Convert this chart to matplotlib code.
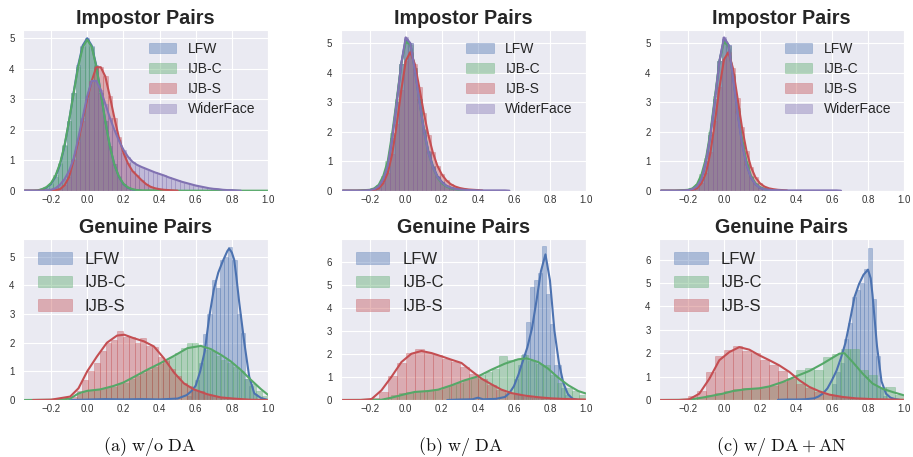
import numpy as np
import matplotlib
matplotlib.use("Agg")
import matplotlib.pyplot as plt
import seaborn as sns

sns.set_style("darkgrid")
plt.rcParams["font.family"] = ["Liberation Sans", "DejaVu Sans"]
plt.rcParams["mathtext.fontset"] = "cm"

# seaborn "deep" (old) colours
C_LFW = "#4C72B0"
C_IJBC = "#55A868"
C_IJBS = "#C44E52"
C_WIDER = "#8172B2"

# impostor score densities, read on a grid starting at -0.35 with step 0.025
IMP_X0 = -0.35
IMP_DX = 0.025

IMP_A_LFW = [0, 0, 0.0, 0.0, 0.04, 0.1, 0.22, 0.46, 0.86, 1.47, 2.29, 3.22, 4.11, 4.76, 5.0, 4.76,
             4.11, 3.22, 2.29, 1.47, 0.86, 0.46, 0.22, 0.1, 0.04, 0.01, 0.0]
IMP_A_IJBC = [0, 0, 0.0, 0.01, 0.05, 0.12, 0.25, 0.5, 0.9, 1.5, 2.3, 3.2, 4.05, 4.7, 4.95, 4.72,
              4.08, 3.2, 2.28, 1.47, 0.86, 0.47, 0.23, 0.11, 0.05, 0.02, 0.01, 0.01, 0.01, 0.01,
              0.01, 0.0, 0.0, 0.0, 0.0, 0.0, 0.0, 0.0, 0.0, 0.0, 0.0, 0.0, 0.0, 0.0, 0.0, 0.0,
              0.0, 0.0, 0.0, 0.0, 0.0, 0.0, 0.0, 0.0, 0.0]
IMP_A_IJBS = [0, 0, 0, 0, 0, 0, 0.0, 0.02, 0.05, 0.18, 0.45, 1.0, 1.6, 2.3, 3.0, 3.6, 4.05, 4.05,
              3.75, 3.1, 2.4, 1.75, 1.25, 0.9, 0.65, 0.5, 0.35, 0.22, 0.13, 0.08, 0.05, 0.03, 0.02,
              0.01, 0.0]
IMP_A_WIDER = [0, 0, 0, 0, 0, 0.01, 0.03, 0.08, 0.2, 0.38, 0.65, 1.05, 1.7, 2.4, 3.1, 3.6, 3.6,
               3.3, 2.85, 2.4, 2.0, 1.65, 1.35, 1.12, 0.95, 0.85, 0.78, 0.72, 0.66, 0.6, 0.55,
               0.5, 0.44, 0.39, 0.34, 0.29, 0.25, 0.21, 0.17, 0.14, 0.11, 0.08, 0.06, 0.05, 0.03,
               0.02, 0.02, 0.01, 0.0]

IMP_B_LFW = [0, 0, 0, 0, 0, 0.01, 0.02, 0.05, 0.15, 0.4, 0.85, 1.8, 3.0, 4.3, 5.15, 5.0, 4.15,
             3.1, 2.1, 1.35, 0.85, 0.5, 0.3, 0.17, 0.1, 0.06, 0.04, 0.03, 0.02, 0.01]
IMP_B_IJBC = [0, 0, 0, 0, 0.01, 0.02, 0.03, 0.08, 0.2, 0.5, 1.0, 1.95, 3.1, 4.3, 5.05, 4.95,
              4.15, 3.1, 2.05, 1.3, 0.8, 0.45, 0.25, 0.14, 0.08, 0.05, 0.03, 0.02, 0.01]
IMP_B_IJBS = [0, 0, 0, 0, 0, 0, 0.01, 0.03, 0.08, 0.25, 0.6, 1.25, 2.25, 3.4, 4.4, 4.7, 4.3,
              3.5, 2.65, 1.9, 1.3, 0.85, 0.55, 0.35, 0.22, 0.14, 0.09, 0.06, 0.04, 0.03, 0.02,
              0.01]
IMP_B_WIDER = [0, 0, 0, 0, 0, 0.01, 0.02, 0.05, 0.15, 0.4, 0.85, 1.8, 3.0, 4.3, 5.2, 5.0, 4.1,
               3.05, 2.05, 1.3, 0.8, 0.47, 0.28, 0.16, 0.1, 0.06, 0.04, 0.03, 0.02, 0.02, 0.01,
               0.01, 0.01, 0.01, 0.01, 0.01, 0.01, 0.0]

IMP_C_LFW = [0, 0, 0, 0, 0, 0.01, 0.02, 0.05, 0.15, 0.4, 1.0, 1.9, 3.1, 4.4, 5.15, 4.95, 3.9,
             2.7, 1.65, 0.9, 0.45, 0.22, 0.1, 0.05, 0.03, 0.02, 0.02, 0.01]
IMP_C_IJBC = [0, 0, 0, 0, 0.01, 0.02, 0.03, 0.08, 0.22, 0.55, 1.1, 2.0, 3.2, 4.4, 5.05, 4.9,
              3.95, 2.8, 1.75, 1.0, 0.5, 0.25, 0.12, 0.06, 0.03, 0.02, 0.01]
IMP_C_IJBS = [0, 0, 0, 0, 0, 0, 0.01, 0.03, 0.08, 0.25, 0.6, 1.3, 2.35, 3.5, 4.45, 4.7, 4.15,
              3.15, 2.15, 1.35, 0.8, 0.45, 0.25, 0.14, 0.08, 0.05, 0.03, 0.02, 0.01]
IMP_C_WIDER = [0, 0, 0, 0, 0, 0.01, 0.02, 0.05, 0.15, 0.4, 1.0, 1.9, 3.1, 4.4, 5.2, 4.95, 3.85,
               2.65, 1.6, 0.88, 0.45, 0.22, 0.1, 0.05, 0.03, 0.02, 0.02, 0.01, 0.01, 0.01, 0.01,
               0.01, 0.01, 0.01, 0.01, 0.01, 0.01, 0.01, 0.01, 0.01, 0.0]

# genuine score KDE curves (x, density)
GEN_A_LFW_X = [-0.1, 0.1, 0.2, 0.3, 0.4, 0.5, 0.55, 0.575, 0.6, 0.625, 0.65, 0.675, 0.7, 0.725,
               0.75, 0.775, 0.785, 0.8, 0.813, 0.825, 0.841, 0.869, 0.896, 0.924, 0.961, 1.0]
GEN_A_LFW_Y = [0.0, 0.03, 0.02, 0.03, 0.02, 0.05, 0.17, 0.3, 0.5, 1.0, 1.7, 2.9, 3.85, 4.45,
               4.85, 5.2, 5.29, 5.15, 4.9, 4.3, 3.4, 2.0, 0.82, 0.23, 0.07, 0.0]
GEN_A_IJBC_X = [-0.35, -0.15, -0.094, -0.048, 0.0, 0.072, 0.146, 0.2, 0.257, 0.33, 0.406, 0.48,
                0.554, 0.628, 0.683, 0.739, 0.794, 0.85, 0.906, 0.961, 1.0]
GEN_A_IJBC_Y = [0.0, 0.01, 0.05, 0.23, 0.32, 0.37, 0.49, 0.61, 0.8, 1.05, 1.29, 1.54, 1.81,
                1.89, 1.78, 1.58, 1.35, 1.05, 0.7, 0.38, 0.18]
GEN_A_IJBS_X = [-0.3, -0.2, -0.094, -0.048, 0.0, 0.054, 0.109, 0.165, 0.205, 0.257, 0.313,
                0.369, 0.424, 0.48, 0.535, 0.59, 0.665, 0.739, 0.81, 0.9, 1.0]
GEN_A_IJBS_Y = [0.0, 0.01, 0.12, 0.41, 1.0, 1.52, 2.0, 2.25, 2.28, 2.16, 2.05, 1.87, 1.46,
                0.96, 0.58, 0.37, 0.2, 0.09, 0.05, 0.01, 0.0]

GEN_B_LFW_X = [0.23, 0.3, 0.37, 0.4, 0.43, 0.5, 0.55, 0.575, 0.6, 0.625, 0.65, 0.675, 0.7,
               0.725, 0.75, 0.775, 0.8, 0.825, 0.85, 0.875, 0.9, 0.925, 0.95]
GEN_B_LFW_Y = [0.0, 0.02, 0.03, 0.1, 0.03, 0.05, 0.13, 0.3, 0.6, 1.1, 1.7, 2.3, 3.1, 4.3, 5.6,
               6.33, 5.2, 3.0, 1.6, 0.72, 0.25, 0.06, 0.01]
GEN_B_IJBC_X = [-0.36, -0.135, -0.08, -0.006, 0.05, 0.124, 0.18, 0.254, 0.328, 0.402, 0.476,
                0.55, 0.624, 0.67, 0.735, 0.79, 0.846, 0.902, 0.957, 1.0]
GEN_B_IJBC_Y = [0.0, 0.01, 0.1, 0.25, 0.35, 0.39, 0.45, 0.64, 0.86, 1.03, 1.32, 1.58, 1.77,
                1.81, 1.65, 1.36, 0.97, 0.64, 0.39, 0.28]
GEN_B_IJBS_X = [-0.36, -0.25, -0.19, -0.135, -0.08, -0.024, 0.031, 0.087, 0.143, 0.198, 0.254,
                0.309, 0.365, 0.42, 0.476, 0.531, 0.587, 0.661, 0.735, 0.81, 0.9, 1.0]
GEN_B_IJBS_Y = [0.0, 0.0, 0.04, 0.42, 1.0, 1.65, 2.01, 2.13, 2.04, 1.9, 1.75, 1.61, 1.26, 0.93,
                0.68, 0.45, 0.3, 0.19, 0.12, 0.07, 0.04, 0.02]

GEN_C_LFW_X = [0.3, 0.35, 0.4, 0.45, 0.5, 0.525, 0.55, 0.575, 0.6, 0.625, 0.65, 0.675, 0.7,
               0.725, 0.75, 0.775, 0.8, 0.815, 0.825, 0.85, 0.875, 0.9, 0.925, 0.95, 0.975]
GEN_C_LFW_Y = [0.01, 0.02, 0.02, 0.03, 0.07, 0.15, 0.28, 0.5, 0.85, 1.25, 1.8, 2.45, 3.4, 4.4,
               4.95, 5.35, 5.57, 5.2, 4.5, 2.3, 0.8, 0.27, 0.1, 0.04, 0.01]
GEN_C_IJBC_X = [-0.36, -0.193, -0.1, -0.007, 0.048, 0.122, 0.196, 0.252, 0.326, 0.4, 0.474,
                0.548, 0.604, 0.641, 0.669, 0.715, 0.77, 0.826, 0.881, 0.937, 1.0]
GEN_C_IJBC_Y = [0.0, 0.01, 0.13, 0.27, 0.38, 0.46, 0.5, 0.58, 0.77, 1.01, 1.24, 1.55, 1.81,
                1.98, 2.0, 1.62, 1.13, 0.7, 0.48, 0.34, 0.2]
GEN_C_IJBS_X = [-0.36, -0.25, -0.193, -0.137, -0.081, -0.026, 0.03, 0.085, 0.141, 0.196, 0.252,
                0.307, 0.363, 0.419, 0.474, 0.53, 0.585, 0.659, 0.733, 0.85, 1.0]
GEN_C_IJBS_Y = [0.0, 0.0, 0.03, 0.27, 0.91, 1.7, 2.05, 2.26, 2.15, 1.91, 1.7, 1.48, 1.2, 0.84,
                0.56, 0.37, 0.23, 0.13, 0.07, 0.03, 0.01]

# genuine histograms: first bin edge, bin width, bar heights
GEN_A_LFW_HIST = (0.55, 0.023, [0.15, 0.4, 0.7, 1.3, 2.3, 3.0, 4.2, 3.9, 4.9, 5.0, 5.35, 4.9,
                                3.0, 2.35, 0.75, 0.5, 0.2])
GEN_A_IJBC_HIST = (-0.09, 0.032, [0.05, 0.2, 0.3, 0.3, 0.35, 0.4, 0.45, 0.45, 0.55, 0.6, 0.75,
                                  0.85, 0.95, 1.05, 1.15, 1.25, 1.35, 1.5, 1.65, 1.8, 2.0, 2.0,
                                  1.9, 1.75, 1.7, 1.55, 1.4, 1.3, 1.15, 1.0, 0.75, 0.55, 0.3,
                                  0.15])
GEN_A_IJBS_HIST = (-0.09, 0.032, [0.1, 0.3, 0.7, 1.0, 1.3, 1.7, 2.0, 2.1, 2.4, 2.2, 2.2, 2.0,
                                  2.15, 1.9, 1.85, 1.5, 1.4, 1.1, 0.85, 0.6, 0.5, 0.35, 0.3,
                                  0.2, 0.15, 0.1, 0.08, 0.05, 0.03, 0.02])

GEN_B_LFW_HIST = (0.6, 0.022, [0.9, 1.5, 2.0, 3.4, 4.9, 5.2, 5.5, 6.7, 4.6, 3.3, 1.5, 1.5, 0.5,
                               0.2, 0.05])
GEN_B_IJBC_HIST = (-0.16, 0.04, [0.03, 0.08, 0.2, 0.3, 0.35, 0.35, 0.4, 0.4, 0.45, 0.55, 0.65,
                                 0.75, 0.85, 0.95, 1.1, 1.2, 1.35, 1.9, 1.75, 1.8, 1.95, 1.7,
                                 1.55, 1.5, 1.1, 0.75, 0.5, 0.4, 0.2])
GEN_B_IJBS_HIST = (-0.2, 0.05, [0.1, 0.35, 1.05, 1.6, 2.05, 2.2, 2.05, 1.95, 1.8, 1.65, 1.45,
                                1.15, 0.9, 0.65, 0.45, 0.3, 0.2, 0.15, 0.1, 0.08, 0.05, 0.03])

GEN_C_LFW_HIST = (0.6, 0.022, [0.7, 1.2, 1.6, 2.6, 3.3, 4.4, 4.7, 5.0, 5.6, 6.5, 4.3, 1.9, 0.5,
                               0.15])
GEN_C_IJBC_HIST = (-0.2, 0.05, [0.02, 0.08, 0.2, 0.3, 0.4, 0.45, 0.5, 0.5, 0.55, 0.6, 0.75,
                                0.9, 1.3, 1.35, 1.3, 1.85, 1.95, 2.2, 2.2, 1.3, 1.05, 0.55, 0.55,
                                0.2])
GEN_C_IJBS_HIST = (-0.2, 0.05, [0.15, 0.4, 1.2, 1.9, 2.15, 2.3, 2.1, 2.0, 1.7, 1.5, 1.25, 0.95,
                                0.7, 0.5, 0.35, 0.25, 0.15, 0.1, 0.07, 0.05, 0.03, 0.02])

CAPTIONS = [r"$\mathrm{(a)\ w/o\ DA}$", r"$\mathrm{(b)\ w/\ DA}$", r"$\mathrm{(c)\ w/\ DA + AN}$"]


W, H = 913, 457
fig = plt.figure(figsize=(W / 100, H / 100), dpi=100)


def px_axes(left, top, right, bottom):
    return fig.add_axes([left / W, 1 - bottom / H, (right - left) / W, (bottom - top) / H])


def style_axes(ax, xlim, ylim, yticks, title):
    ax.set_xlim(*xlim)
    ax.set_ylim(0, ylim)
    ax.set_xticks([-0.2, 0.0, 0.2, 0.4, 0.6, 0.8, 1.0])
    ax.set_yticks(yticks)
    ax.tick_params(labelsize=7, colors="#333333", length=0)
    ax.tick_params(axis="x", pad=3)
    ax.tick_params(axis="y", pad=6)
    ax.set_title(title, fontsize=14.2, fontweight="bold", color="#262626", pad=4)


def draw_impostor(ax, series):
    for label, vals, color in series:
        x = IMP_X0 + IMP_DX * np.arange(len(vals))
        ax.bar(x, vals, width=IMP_DX, color=color, alpha=0.4, edgecolor=color,
               linewidth=0.5, label=label)
        ax.plot(x, vals, color=color, lw=1.5)
    ax.legend(loc="upper left", bbox_to_anchor=(0.49, 0.962), fontsize=10, frameon=False,
              labelspacing=0.45, handletextpad=0.8, borderaxespad=0)


def draw_genuine(ax, series):
    for label, (x0, w, h), kx, ky, color in series:
        x = x0 + w * (np.arange(len(h)) + 0.5)
        ax.bar(x, h, width=w, color=color, alpha=0.4, edgecolor=color, linewidth=0.5,
               label=label)
        ax.plot(kx, ky, color=color, lw=1.5)
    ax.legend(loc="upper left", bbox_to_anchor=(0.035, 0.958), fontsize=12, frameon=False,
              labelspacing=0.5, handletextpad=0.8, borderaxespad=0)


cols = [(23, 268, -0.355), (340.7, 586, -0.361), (659, 904, -0.361)]
imp_series = [
    [("LFW", IMP_A_LFW, C_LFW), ("IJB-C", IMP_A_IJBC, C_IJBC), ("IJB-S", IMP_A_IJBS, C_IJBS),
     ("WiderFace", IMP_A_WIDER, C_WIDER)],
    [("LFW", IMP_B_LFW, C_LFW), ("IJB-C", IMP_B_IJBC, C_IJBC), ("IJB-S", IMP_B_IJBS, C_IJBS),
     ("WiderFace", IMP_B_WIDER, C_WIDER)],
    [("LFW", IMP_C_LFW, C_LFW), ("IJB-C", IMP_C_IJBC, C_IJBC), ("IJB-S", IMP_C_IJBS, C_IJBS),
     ("WiderFace", IMP_C_WIDER, C_WIDER)],
]
gen_series = [
    [("LFW", GEN_A_LFW_HIST, GEN_A_LFW_X, GEN_A_LFW_Y, C_LFW),
     ("IJB-C", GEN_A_IJBC_HIST, GEN_A_IJBC_X, GEN_A_IJBC_Y, C_IJBC),
     ("IJB-S", GEN_A_IJBS_HIST, GEN_A_IJBS_X, GEN_A_IJBS_Y, C_IJBS)],
    [("LFW", GEN_B_LFW_HIST, GEN_B_LFW_X, GEN_B_LFW_Y, C_LFW),
     ("IJB-C", GEN_B_IJBC_HIST, GEN_B_IJBC_X, GEN_B_IJBC_Y, C_IJBC),
     ("IJB-S", GEN_B_IJBS_HIST, GEN_B_IJBS_X, GEN_B_IJBS_Y, C_IJBS)],
    [("LFW", GEN_C_LFW_HIST, GEN_C_LFW_X, GEN_C_LFW_Y, C_LFW),
     ("IJB-C", GEN_C_IJBC_HIST, GEN_C_IJBC_X, GEN_C_IJBC_Y, C_IJBC),
     ("IJB-S", GEN_C_IJBS_HIST, GEN_C_IJBS_X, GEN_C_IJBS_Y, C_IJBS)],
]
imp_ylim = [5.27, 5.45, 5.45]
gen_ylim = [5.64, 7.02, 6.9]
gen_yticks = [range(0, 6), range(0, 7), range(0, 7)]
caption_x = [150, 461, 781]

for i, (left, right, xmin) in enumerate(cols):
    ax = px_axes(left, 30, right, 190.7)
    draw_impostor(ax, imp_series[i])
    style_axes(ax, (xmin, 1.0), imp_ylim[i], range(0, 6), "Impostor Pairs")

    ax = px_axes(left, 238.5, right, 400)
    draw_genuine(ax, gen_series[i])
    style_axes(ax, (xmin, 1.0), gen_ylim[i], gen_yticks[i], "Genuine Pairs")

    fig.text(caption_x[i] / W, 1 - 447 / H, CAPTIONS[i], fontsize=13, ha="center",
             va="center", color="#111111")

fig.savefig("out.png", dpi=100)
